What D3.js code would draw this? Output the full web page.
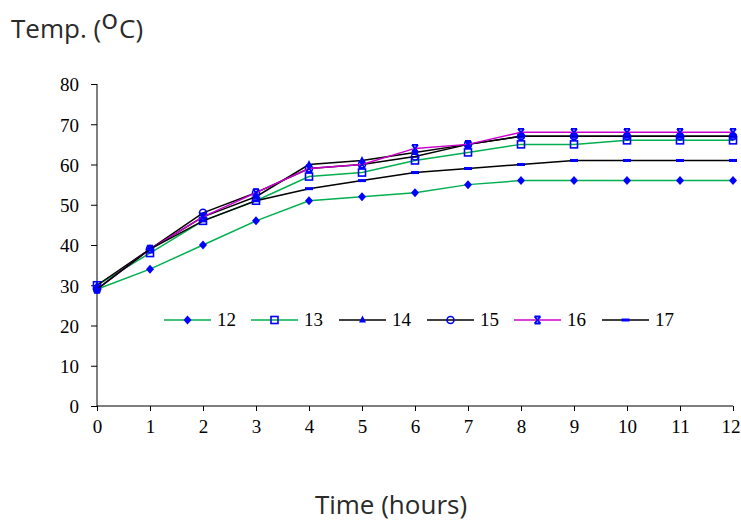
<!DOCTYPE html>
<html><head><meta charset="utf-8">
<script src="https://cdn.jsdelivr.net/npm/d3@7"></script>
<style>body{margin:0;background:#fff}</style>
</head><body><svg id="c" width="741" height="524"></svg>
<script>
const hours = [0,1,2,3,4,5,6,7,8,9,10,11,12];
const yTicks = [0,10,20,30,40,50,60,70,80];
const s12 = [29,34,40,46,51,52,53,55,56,56,56,56,56];
const s13 = [30,38,46,51,57,58,61,63,65,65,66,66,66];
const s14 = [30,39,47,52,60,61,63,65,67,67,67,67,67];
const s15 = [29,39,48,53,59,60,62,65,67,67,67,67,67];
const s16 = [29,39,47,53,59,60,64,65,68,68,68,68,68];
const s17 = [29,39,46,51,54,56,58,59,60,61,61,61,61];
const seriesNames = ["12","13","14","15","16","17"];
const seriesColors = ["#00b050","#00b050","#000000","#000000","#cc00cc","#000000"];
const seriesMarkers = ["diamond","square","triangle","circle","cross","dash"];
const seriesData = [s12,s13,s14,s15,s16,s17];

const svg = d3.select("#c");
const x = d3.scaleLinear().domain([0,12]).range([97,733]);
const y = d3.scaleLinear().domain([0,80]).range([406,84]);
const serif = "'Liberation Serif','Times New Roman',serif";

// axes
const yAxis = svg.append("g").attr("transform","translate(97,0)")
  .call(d3.axisLeft(y).tickValues(yTicks).tickSize(6).tickPadding(12));
const xAxis = svg.append("g").attr("transform","translate(0,406)")
  .call(d3.axisBottom(x).tickValues(hours).tickSize(5).tickPadding(9));
[yAxis,xAxis].forEach(a=>{
  a.attr("font-family",null).attr("font-size",null);
  a.select(".domain").attr("stroke","#000");
  a.selectAll(".tick line").attr("stroke","#000");
  a.selectAll("text").style("font-family",serif).style("font-size","19px").attr("fill","#000");
});
yAxis.selectAll("text").attr("dy","0.36em");
xAxis.selectAll(".tick text").filter(d=>d===12).attr("text-anchor","end").attr("x",7);
yAxis.select(".domain").attr("d","M0,84V406");
xAxis.select(".domain").attr("d","M97,0H733");

const blue = "#0000ff";
function marker(g, type, cx, cy){
  if(type==="diamond"){
    g.append("path").attr("d",`M${cx},${cy-4.5}L${cx+4},${cy}L${cx},${cy+4.5}L${cx-4},${cy}Z`).attr("fill",blue);
  } else if(type==="square"){
    g.append("rect").attr("x",cx-3.5).attr("y",cy-3.5).attr("width",7).attr("height",7)
      .attr("fill","none").attr("stroke",blue).attr("stroke-width",1.6);
  } else if(type==="triangle"){
    g.append("path").attr("d",`M${cx},${cy-4.5}L${cx+3.5},${cy+2.5}L${cx-3.5},${cy+2.5}Z`).attr("fill",blue);
  } else if(type==="circle"){
    g.append("circle").attr("cx",cx).attr("cy",cy).attr("r",3.5)
      .attr("fill","none").attr("stroke",blue).attr("stroke-width",1.6);
  } else if(type==="cross"){
    g.append("path").attr("d",`M${cx-3},${cy-3.5}L${cx+3},${cy+3.5}M${cx+3},${cy-3.5}L${cx-3},${cy+3.5}M${cx-3},${cy-3.5}H${cx+3}M${cx-3},${cy+3.5}H${cx+3}`)
      .attr("stroke",blue).attr("stroke-width",1.8).attr("fill","none");
  } else if(type==="dash"){
    g.append("rect").attr("x",cx-4).attr("y",cy-1.5).attr("width",8).attr("height",3).attr("fill",blue);
  }
}

const line = d3.line().x((d,i)=>x(hours[i])).y(d=>y(d));
seriesData.forEach((data,k)=>{
  const g = svg.append("g");
  g.append("path").attr("d",line(data)).attr("fill","none")
    .attr("stroke",seriesColors[k]).attr("stroke-width",1.5);
  data.forEach((v,i)=>marker(g,seriesMarkers[k],x(hours[i]),y(v)));
});

// legend
const legX = [164,251,339,427,514,602];
const legY = 320;
seriesNames.forEach((n,k)=>{
  const g = svg.append("g");
  g.append("line").attr("x1",legX[k]).attr("x2",legX[k]+47).attr("y1",legY).attr("y2",legY)
    .attr("stroke",seriesColors[k]).attr("stroke-width",1.5);
  marker(g,seriesMarkers[k],legX[k]+23.5,legY);
  g.append("text").attr("x",legX[k]+53).attr("y",legY+6).text(n)
    .style("font-family",serif).style("font-size","19px").attr("fill","#000");
});

// titles
const sans = "'Open Sans','Noto Sans',sans-serif";
const t = svg.append("text").attr("x",11).attr("y",38)
  .style("font-family",sans).style("font-size","26px").attr("fill","#2a2a2a");
t.append("tspan").text("Temp. (");
t.append("tspan").text("o").attr("dy",-9).style("font-size","28px");
t.append("tspan").text("C)").attr("dy",9).attr("dx",1);
svg.append("text").attr("x",391).attr("y",514).attr("text-anchor","middle")
  .style("font-family",sans).style("font-size","26px").attr("fill","#2a2a2a").text("Time (hours)");
</script>
</body></html>
